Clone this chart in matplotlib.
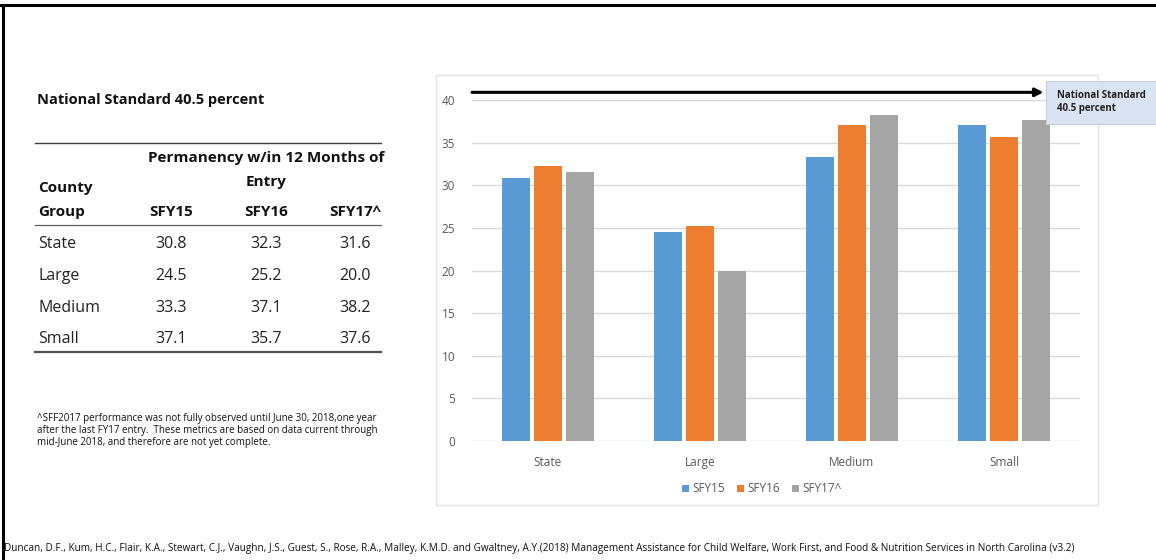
import numpy as np
import matplotlib.pyplot as plt
from matplotlib.lines import Line2D
from matplotlib.patches import Rectangle

# permanency within 12 months of entry, by county group
groups = ["State", "Large", "Medium", "Small"]
years = ["SFY15", "SFY16", "SFY17^"]
sfy15 = [30.8, 24.5, 33.3, 37.1]
sfy16 = [32.3, 25.2, 37.1, 35.7]
sfy17 = [31.6, 20.0, 38.2, 37.6]
national_standard = 40.5

COLORS = ["#5B9BD5", "#ED7D31", "#A5A5A5"]
W, H = 1156, 560
plt.rcParams["font.family"] = ["Open Sans", "DejaVu Sans"]


def px(x, y):
    """pixel position (from top-left) -> figure fraction"""
    return x / W, 1 - y / H


def hline(fig, x0, x1, y, lw=1.0, color="#404040"):
    (a, b), (c, _) = px(x0, y), px(x1, y)
    fig.add_artist(Line2D([a, c], [b, b], lw=lw, color=color))


fig = plt.figure(figsize=(W / 100, H / 100), dpi=100)

# outer frame (top and left rule)
fig.add_artist(Line2D([0, 1], [1 - 5 / H] * 2, lw=2.2, color="black"))
fig.add_artist(Line2D([3 / W] * 2, [0, 1 - 5 / H], lw=2.2, color="black"))

# ---- left: table ----
fig.text(*px(37, 100), "National Standard 40.5 percent", fontsize=10.5,
         fontweight="bold", va="center", ha="left", color="#111111")
hline(fig, 35, 381, 143, lw=1.0)
fig.text(*px(266, 158), "Permanency w/in 12 Months of", fontsize=11,
         fontweight="bold", ha="center", va="center", color="#111111")
fig.text(*px(266, 182), "Entry", fontsize=11, fontweight="bold",
         ha="center", va="center", color="#111111")
fig.text(*px(38, 188), "County", fontsize=11, fontweight="bold",
         ha="left", va="center", color="#111111")
fig.text(*px(38, 212), "Group", fontsize=11, fontweight="bold",
         ha="left", va="center", color="#111111")
col_x = [171, 266, 355]
for cx, yr in zip(col_x, years):
    fig.text(*px(cx, 212), yr, fontsize=11, fontweight="bold",
             ha="center", va="center", color="#111111")
hline(fig, 35, 381, 225, lw=0.9, color="#606060")
row_y = [244, 276, 308, 339]
for ry, g, a, b, c in zip(row_y, groups, sfy15, sfy16, sfy17):
    fig.text(*px(38, ry), g, fontsize=11.5, ha="left", va="center", color="#222222")
    for cx, v in zip(col_x, (a, b, c)):
        fig.text(*px(cx, ry), f"{v:.1f}", fontsize=11.5, ha="center",
                 va="center", color="#222222")
hline(fig, 35, 381, 352, lw=1.6, color="#505050")

note = ("^SFF2017 performance was not fully observed until June 30, 2018,one year\n"
        "after the last FY17 entry.  These metrics are based on data current through\n"
        "mid-June 2018, and therefore are not yet complete.")
fig.text(*px(37, 413), note, fontsize=7.0, ha="left", va="top",
         linespacing=1.15, color="#111111")

fig.text(*px(4, 548), "Duncan, D.F., Kum, H.C., Flair, K.A., Stewart, C.J., Vaughn, J.S., "
         "Guest, S., Rose, R.A., Malley, K.M.D. and Gwaltney, A.Y.(2018) Management "
         "Assistance for Child Welfare, Work First, and Food & Nutrition Services in "
         "North Carolina (v3.2)", fontsize=7.2, ha="left", va="center", color="#111111")

# ---- right: bar chart ----
x0, y0 = px(436, 505)
x1, y1 = px(1098, 75)
fig.add_artist(Rectangle((x0, y0), x1 - x0, y1 - y0, transform=fig.transFigure,
                         facecolor="white", edgecolor="#E3E3E3", lw=1.0, zorder=0))

ymax = 41.5
top_px = 441 - ymax * (441 - 100) / 40
ax = fig.add_axes([472 / W, (H - 441) / H, (1080 - 472) / W, (441 - top_px) / H])
ax.set_facecolor("none")
x = np.arange(len(groups))
bw, step = 0.18, 0.21
for i, (vals, lab) in enumerate(zip((sfy15, sfy16, sfy17), years)):
    ax.bar(x + (i - 1) * step, vals, width=bw, color=COLORS[i], label=lab, zorder=3)
ax.set_xlim(-0.5, 3.5)
ax.set_ylim(0, ymax)
ax.set_yticks(range(0, 41, 5))
ax.set_xticks(x, groups)
ax.grid(axis="y", color="#D9D9D9", lw=1.0, zorder=0)
for s in ax.spines.values():
    s.set_visible(False)
ax.tick_params(length=0, labelsize=8.5, labelcolor="#595959")
ax.tick_params(axis="x", pad=11)
ax.tick_params(axis="y", pad=12)

ax.annotate("", xy=(3.26, national_standard + 0.4), xytext=(-0.5, national_standard + 0.4),
            arrowprops=dict(arrowstyle="-|>", color="black", lw=2.2, mutation_scale=12,
                            shrinkA=0, shrinkB=0),
            annotation_clip=False, zorder=5)

bx0, by0 = px(1046, 124)
bx1, by1 = px(1160, 81)
fig.add_artist(Rectangle((bx0, by0), bx1 - bx0, by1 - by0, transform=fig.transFigure,
                         facecolor="#DAE3F3", edgecolor="#C9CFD8", lw=0.8, zorder=6))
fig.text(*px(1057, 102), "National Standard\n40.5 percent", fontsize=7,
         fontweight="bold", ha="left", va="center", linespacing=1.3,
         color="#222222", zorder=7)

fig.legend(loc="center", bbox_to_anchor=px(762, 489), ncol=3, frameon=False,
           fontsize=8.5, handlelength=0.6, handleheight=0.6, handletextpad=0.3,
           columnspacing=1.0, labelcolor="#595959")

fig.savefig("out.png", dpi=100)
